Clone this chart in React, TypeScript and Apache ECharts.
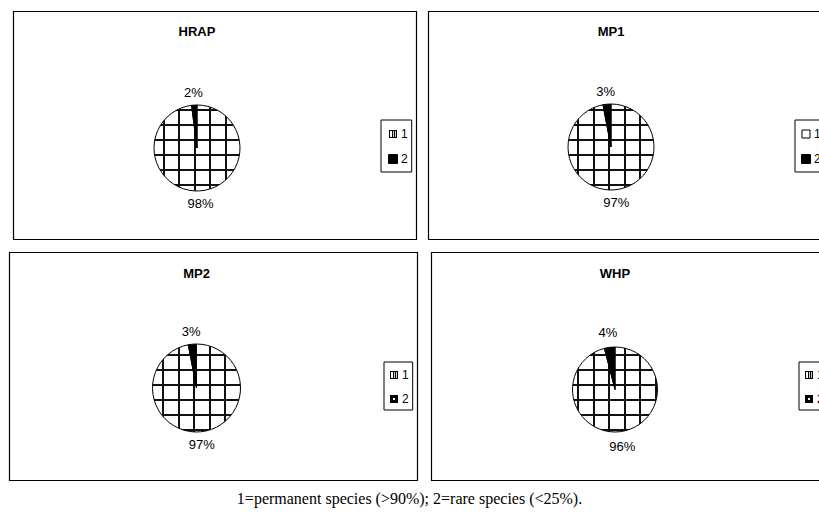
import React, { useEffect, useRef } from 'react';
import * as echarts from 'echarts';

// ---- data ----
const panelTitles = ['HRAP', 'MP1', 'MP2', 'WHP'];
const permanentShare = [98, 97, 97, 96];
const rareShare = [2, 3, 3, 4];
const legendNames = ['1', '2'];
const captionText = '1=permanent species (>90%); 2=rare species (<25%).';

// ---- layout (pixels) ----
const panelBoxes = [
  { x: 13, y: 11, w: 403, h: 228 },
  { x: 428, y: 11, w: 403, h: 228 },
  { x: 9, y: 252, w: 408, h: 228 },
  { x: 431, y: 252, w: 403, h: 228 },
];
const pieGeom = [
  { cx: 197, cy: 148, r: 43, len: 13, hx: 179, hy: 110, titleTop: 25 },
  { cx: 611, cy: 147, r: 43, len: 13, hx: 578, hy: 110, titleTop: 25 },
  { cx: 196.5, cy: 388, r: 44, len: 13, hx: 163, hy: 355, titleTop: 267 },
  { cx: 615, cy: 389.5, r: 42.5, len: 15, hx: 578, hy: 355, titleTop: 267 },
];
const legendGeom = [
  { left: 381, top: 120, padding: [8, 4, 7, 7], gap: 13, whiteOne: false, holeTwo: false },
  { left: 795, top: 120, padding: [8, 4, 7, 6], gap: 13, whiteOne: true, holeTwo: false },
  { left: 384, top: 362, padding: [7, 4, 5, 6], gap: 12, whiteOne: false, holeTwo: true },
  { left: 799, top: 362, padding: [7, 4, 5, 6], gap: 12, whiteOne: false, holeTwo: true },
];

const SANS = 'Liberation Sans, Arial, sans-serif';
const SERIF = 'Liberation Serif, Times New Roman, serif';
const ICON_HATCH = 'path://M0 0H8V8H0ZM1 1V7H7V1ZM3 1H4.2V7H3ZM5 1H6.2V7H5Z';
const ICON_HOLE = 'path://M0 0H8V8H0ZM3 3V5H5V3Z';

function hatch(x0: number, y0: number) {
  const W = 31;
  const H = 15;
  const c = document.createElement('canvas');
  c.width = W;
  c.height = H;
  const g = c.getContext('2d')!;
  g.fillStyle = '#ffffff';
  g.fillRect(0, 0, W, H);
  g.fillStyle = '#111111';
  const vxs = [((x0 % W) + W) % W, (((x0 + 16) % W) + W) % W];
  vxs.forEach((v) => {
    g.fillRect(v - 1, 0, 2, H);
    if (v - 1 < 0) g.fillRect(v - 1 + W, 0, 2, H);
  });
  const hy = ((y0 % H) + H) % H;
  g.fillRect(0, hy - 1, W, 2);
  if (hy - 1 < 0) g.fillRect(0, hy - 1 + H, W, 2);
  return { image: c.toDataURL(), repeat: 'repeat', imageWidth: W, imageHeight: H } as any;
}

export default function App() {
  const ref = useRef<HTMLDivElement>(null);

  useEffect(() => {
    if (!ref.current) return;
    const chart = echarts.init(ref.current, null, { renderer: 'svg' });

    const titles: any[] = panelTitles.map((t, i) => ({
      text: t,
      left: pieGeom[i].cx,
      top: pieGeom[i].titleTop,
      textAlign: 'center',
      padding: 0,
      textStyle: { fontFamily: SANS, fontSize: 13, fontWeight: 'bold', color: '#000' },
    }));
    titles.push({
      text: captionText,
      left: 'center',
      top: 490,
      padding: 0,
      textStyle: { fontFamily: SERIF, fontSize: 16, fontWeight: 'normal', color: '#000' },
    });

    const legends = legendGeom.map((lg) => ({
      orient: 'vertical',
      left: lg.left,
      top: lg.top,
      padding: lg.padding,
      itemGap: lg.gap,
      itemWidth: 8,
      itemHeight: 8,
      borderColor: '#000',
      borderWidth: 1,
      backgroundColor: '#fff',
      selectedMode: false,
      icon: 'rect',
      textStyle: { fontFamily: SANS, fontSize: 12, color: '#000', padding: [0, 0, 0, -1] },
      data: [
        lg.whiteOne
          ? { name: legendNames[0], itemStyle: { color: '#fff', borderColor: '#000', borderWidth: 1 } }
          : { name: legendNames[0], icon: ICON_HATCH, itemStyle: { color: '#000', borderWidth: 0 } },
        lg.holeTwo
          ? { name: legendNames[1], icon: ICON_HOLE, itemStyle: { color: '#000', borderWidth: 0 } }
          : { name: legendNames[1] },
      ],
    }));

    const borders = panelBoxes.map((b) => ({
      type: 'rect',
      shape: { x: b.x + 0.5, y: b.y + 0.5, width: b.w, height: b.h },
      style: { fill: 'none', stroke: '#000', lineWidth: 1.2 },
      silent: true,
      z: -1,
    }));

    const series = panelTitles.map((t, i) => {
      const p = pieGeom[i];
      return {
        type: 'pie',
        name: t,
        center: [p.cx, p.cy],
        radius: p.r,
        startAngle: 90,
        clockwise: true,
        avoidLabelOverlap: false,
        silent: true,
        emphasis: { disabled: true },
        itemStyle: { borderColor: '#000', borderWidth: 1 },
        label: {
          show: true,
          position: 'outside',
          formatter: '{d}%',
          distanceToLabelLine: 0,
          fontFamily: SANS,
          fontSize: 13,
          color: '#000',
        },
        labelLine: { show: false, length: p.len, length2: 0 },
        labelLayout: { align: 'center' },
        data: [
          { name: legendNames[0], value: permanentShare[i], itemStyle: { color: hatch(p.hx, p.hy) } },
          { name: legendNames[1], value: rareShare[i], itemStyle: { color: '#000' } },
        ],
      };
    });

    chart.setOption({
      animation: false,
      backgroundColor: '#fff',
      title: titles,
      legend: legends,
      graphic: borders,
      series,
    } as any);

    return () => chart.dispose();
  }, []);

  return (
    <div
      ref={ref}
      style={{ position: 'fixed', left: 0, top: 0, width: 819, height: 512, background: '#fff' }}
    />
  );
}
